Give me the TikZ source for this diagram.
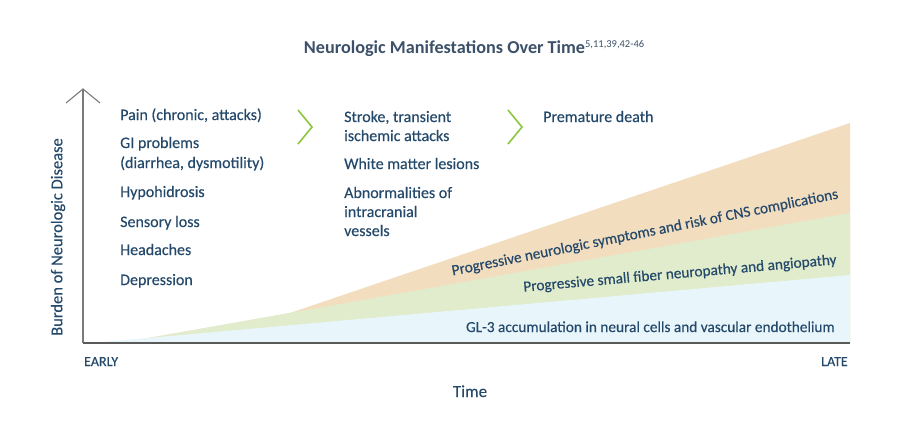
\documentclass[tikz,border=0pt]{standalone}
\usepackage{fontspec}
\setmainfont[FakeBold=0.3]{Carlito}
\newfontfamily\titlefont{Carlito}
\definecolor{txt}{HTML}{24496B}
\definecolor{ttl}{HTML}{3C5169}
\definecolor{fillor}{HTML}{F3DDBF}
\definecolor{fillgr}{HTML}{E1ECCC}
\definecolor{fillbl}{HTML}{E8F6FB}
\definecolor{chev}{HTML}{8CC63F}
\definecolor{axg}{HTML}{7A7A7A}
\definecolor{axd}{HTML}{5A5A5A}
\tikzset{
  item/.style={anchor=base west, inner sep=0pt, text=txt, font=\fontsize{16}{19}\selectfont},
  band/.style={inner sep=0pt, text=txt, font=\fontsize{15.3}{17}\selectfont},
  chevron/.style={draw=chev, line width=1.6pt, line join=miter},
  axis/.style={draw=axg, line width=1.1pt},
  axlab/.style={inner sep=0pt, text=txt, font=\fontsize{14}{16}\selectfont},
}
\begin{document}
\begin{tikzpicture}[x=1pt,y=-1pt]
\useasboundingbox (0,0) rectangle (900,440);
\fill[white] (0,0) rectangle (900,440);
% areas
\fill[fillor] (120,343) -- (290,313) -- (850,123) -- (850,343) -- cycle;
\fill[fillgr] (120,343) -- (290,313) -- (850,213) -- (850,343) -- cycle;
\fill[fillbl] (92,343) -- (850,275) -- (850,343) -- cycle;
% axes
\coordinate (o) at (83,343);
\coordinate (ytop) at (83,89);
\coordinate (xend) at (850,343);
\coordinate (al) at (66,103);
\coordinate (ar) at (100,103);
\draw[axis] (o) -- (ytop);
\draw[axis] (al) -- (ytop) -- (ar);
\draw[draw=axd, line width=2pt] (o) -- (xend);
% title
\node[anchor=base, inner sep=0pt, text=ttl, font=\titlefont\fontsize{18.2}{20}\selectfont\bfseries] (title) at (474,53) {Neurologic Manifestations Over Time\raisebox{6pt}{\mdseries\fontsize{10.5}{11}\selectfont 5,11,39,42-46}};
% y label
\node[rotate=90, inner sep=0pt, text=txt, font=\fontsize{16.5}{18}\selectfont] (ylab) at (58,237) {Burden of Neurologic Disease};
% left column
\node[item] (l1) at (120,120) {Pain (chronic, attacks)};
\node[item] (l2a) at (120,148) {GI problems};
\node[item] (l2b) at (120,168) {(diarrhea, dysmotility)};
\node[item] (l3) at (120,197) {Hypohidrosis};
\node[item] (l4) at (120,227) {Sensory loss};
\node[item] (l5) at (120,255) {Headaches};
\node[item] (l6) at (120,285) {Depression};
% middle column
\node[item] (m1a) at (344,122) {Stroke, transient};
\node[item] (m1b) at (344,141) {ischemic attacks};
\node[item] (m2) at (344,169) {White matter lesions};
\node[item] (m3a) at (344,198) {Abnormalities of};
\node[item] (m3b) at (344,217) {intracranial};
\node[item] (m3c) at (344,236) {vessels};
% right
\node[item] (r1) at (543,122) {Premature death};
% chevrons
\coordinate (c1a) at (298,110); \coordinate (c1b) at (312,127); \coordinate (c1c) at (298,144);
\coordinate (c2a) at (508,110); \coordinate (c2b) at (522,127); \coordinate (c2c) at (508,144);
\draw[chevron] (c1a) -- (c1b) -- (c1c);
\draw[chevron] (c2a) -- (c2b) -- (c2c);
% band labels
\node[band, rotate=11.3] (b1) at (645,233) {Progressive neurologic symptoms and risk of CNS complications};
\node[band, rotate=5] (b2) at (680,274) {Progressive small fiber neuropathy and angiopathy};
\node[band, anchor=base east] (b3) at (835,332) {GL-3 accumulation in neural cells and vascular endothelium};
% axis labels
\node[axlab, anchor=base west] (early) at (84,366) {EARLY};
\node[axlab, anchor=base east] (late) at (848,366) {LATE};
\node[axlab, anchor=base, font=\fontsize{17}{19}\selectfont] (time) at (470,397) {Time};
\end{tikzpicture}
\end{document}
